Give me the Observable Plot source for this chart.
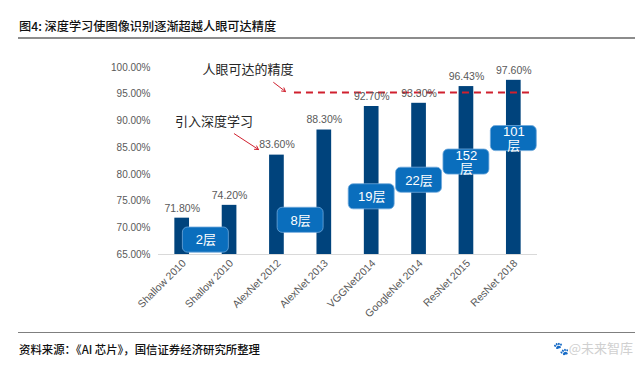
<!DOCTYPE html>
<html>
<head>
<meta charset="utf-8">
<script src="https://cdn.jsdelivr.net/npm/d3@7"></script>
<script src="https://cdn.jsdelivr.net/npm/@observablehq/plot@0.6"></script>
<style>
  body { margin: 0; width: 640px; height: 366px; background: #fff; overflow: hidden; font-family: "Liberation Sans", "Noto Sans CJK SC", sans-serif; }
  #title { position: relative; height: 37px; }
  #title span { position: absolute; left: 19px; top: 17px; font: 500 12.2px "Noto Sans CJK SC", sans-serif; color: #111; }
  #title .line { position: absolute; left: 18px; top: 37px; width: 617px; height: 2px; background: #8c8c8c; }
  #chart { position: absolute; left: 0; top: 39px; }
  #footer { position: absolute; left: 18px; top: 332px; width: 617px; height: 34px; border-top: 1.5px solid #7f7f7f; }
  #footer .src { position: absolute; left: 1px; top: 8px; font: 500 11.4px "Noto Sans CJK SC", sans-serif; color: #111; }
  #footer .wm { position: absolute; right: 2px; top: 5px; font: 13px "Noto Sans CJK SC", sans-serif; color: #d0d0d0; }
</style>
</head>
<body>
<div id="title"><span>图4: 深度学习使图像识别逐渐超越人眼可达精度</span><div class="line"></div></div>
<div id="chart"></div>
<div id="footer"><span class="src">资料来源：《AI 芯片》，国信证券经济研究所整理</span><span class="wm">🐾@未来智库</span></div>
<script>
// categories and values
const models = ["Shallow 2010", "Shallow 2010", "AlexNet 2012", "AlexNet 2013", "VGGNet2014", "GoogleNet 2014", "ResNet 2015", "ResNet 2018"];
const accuracy = [71.80, 74.20, 83.60, 88.30, 92.70, 93.30, 96.43, 97.60];
const yTicks = [65, 70, 75, 80, 85, 90, 95, 100];

// network depth callouts (x = model index position, y = accuracy level of box centre)
const layerLabels = ["2层", "8层", "19层", "22层", "152\n层", "101\n层"];
const layerX = [0.5, 2.5, 4, 5, 6, 7];
const layerY = [67.7, 71.4, 75.8, 78.9, 82.3, 86.7];

// human-eye accuracy reference
const humanLevel = [95.3];
const humanSpan = [2.37, 7.35];

// annotation texts and their arrows
const noteTexts = ["人眼可达的精度", "引入深度学习"];
const noteX = [1.39, 0.67];
const noteY = [99.6, 89.9];
const arrowFrom = [[1.93, 97.2], [1.10, 87.6]];
const arrowTo = [[2.18, 95.5], [1.61, 84.65]];

const bars = models.map((m, i) => ({i, m, v: accuracy[i]}));
const layers = layerLabels.map((t, k) => ({t, x: layerX[k], y: layerY[k]}));
const notes = noteTexts.map((t, k) => ({t, x: noteX[k], y: noteY[k]}));
const arrows = arrowFrom.map((f, k) => ({x1: f[0], y1: f[1], x2: arrowTo[k][0], y2: arrowTo[k][1]}));

const sans = "'Liberation Sans', 'Noto Sans CJK SC', sans-serif";
const gray = "#595959";
const plot = Plot.plot({
  width: 640,
  height: 292,
  marginLeft: 158,
  marginRight: 103,
  marginTop: 28,
  marginBottom: 77,
  style: {fontFamily: sans, fontSize: "10px", color: gray, background: "transparent"},
  x: {domain: [-0.5, 7.5]},
  y: {domain: [65, 100]},
  marks: [
    Plot.axisY({ticks: yTicks, tickFormat: d => d.toFixed(2) + "%", tickSize: 0, tickPadding: 8, label: null, fill: gray, fontSize: 10, fontFamily: sans}),
    Plot.axisX({ticks: d3.range(models.length), tickFormat: i => models[i], tickSize: 0, tickRotate: -45, tickPadding: 4, label: null, fill: gray, fontSize: 10.5, fontFamily: sans, dx: 2, dy: 3}),
    Plot.ruleY([65], {stroke: "#d9d9d9", strokeWidth: 1}),
    Plot.rect(bars, {x1: d => d.i - 0.155, x2: d => d.i + 0.155, y1: 65, y2: "v", fill: "#00437C"}),
    Plot.ruleY(humanLevel, {x1: humanSpan[0], x2: humanSpan[1], stroke: "#D0202E", strokeWidth: 2, strokeDasharray: "7,5"}),
    Plot.text(bars, {x: "i", y: "v", text: d => d.v.toFixed(2) + "%", dy: -10, fill: gray, fontSize: 10.5, fontFamily: sans}),
    Plot.rect(layers, {x1: d => d.x - 0.485, x2: d => d.x + 0.485, y1: d => d.y - 2.35, y2: d => d.y + 2.35, rx: 5, fill: "#0A6EBD", stroke: "#6FA8DC", strokeWidth: 0.8}),
    Plot.text(layers, {x: "x", y: "y", text: "t", fill: "white", fontSize: 13, lineHeight: 1.05, fontFamily: sans}),
    Plot.text(notes, {x: "x", y: "y", text: "t", fill: "#262626", fontSize: 13, fontFamily: "'Noto Sans CJK SC', sans-serif"}),
    Plot.arrow(arrows, {x1: "x1", y1: "y1", x2: "x2", y2: "y2", stroke: "#D0202E", strokeWidth: 1, headLength: 6})
  ]
});
document.getElementById("chart").append(plot);
</script>
</body>
</html>
